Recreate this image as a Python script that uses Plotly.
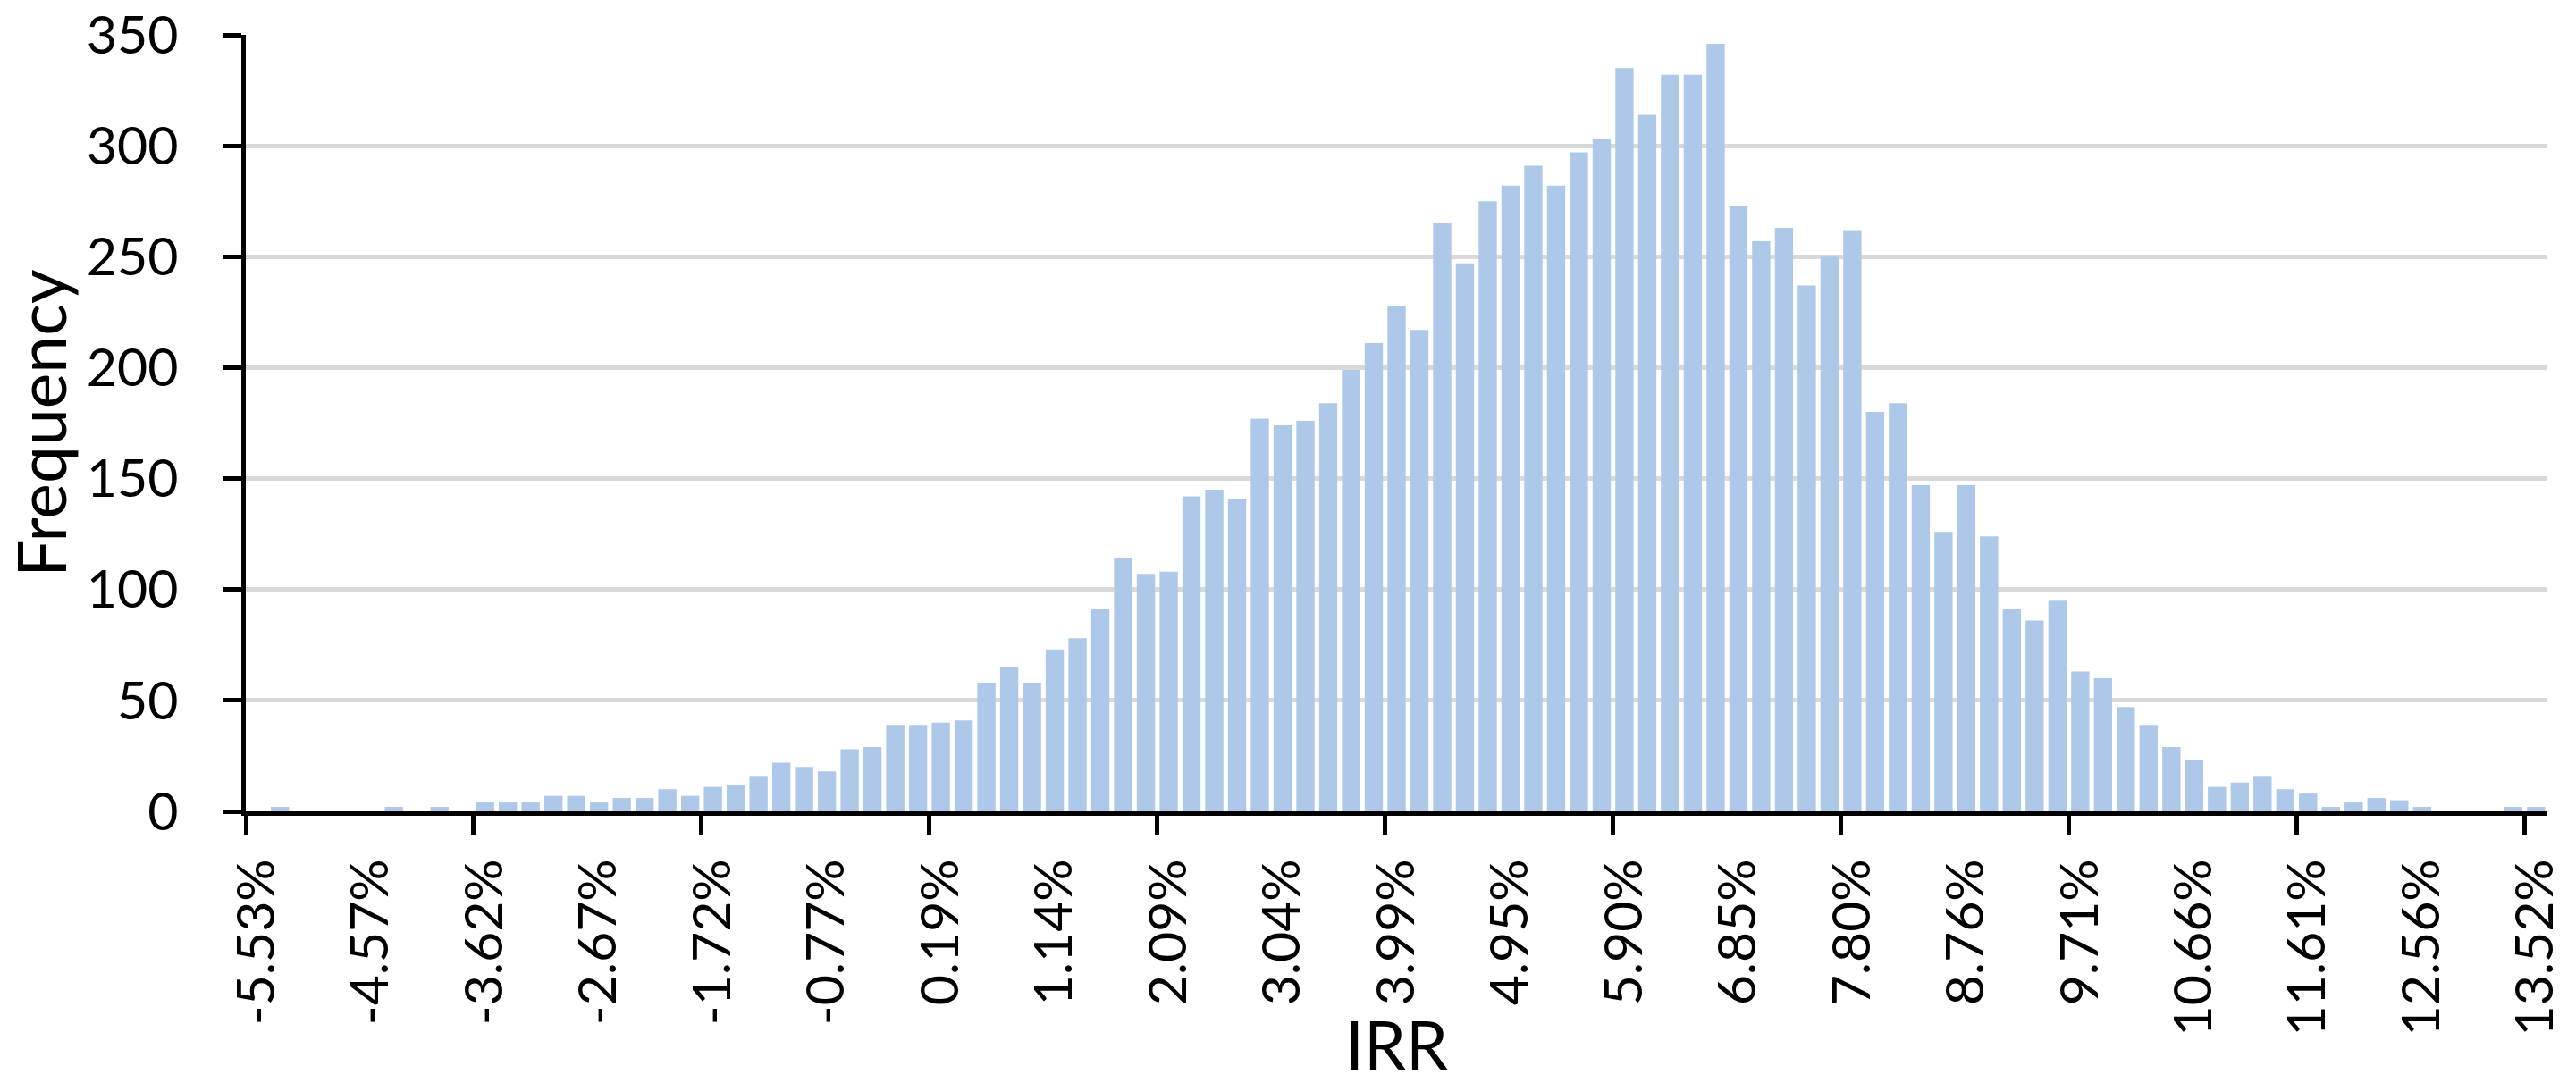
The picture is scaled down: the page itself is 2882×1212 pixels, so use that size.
import plotly.graph_objects as go

# ---- data ----
frequency = [
    0, 2, 0, 0, 0, 0, 2, 0, 2, 0,
    4, 4, 4, 7, 7, 4, 6, 6, 10, 7,
    11, 12, 16, 22, 20, 18, 28, 29, 39, 39,
    40, 41, 58, 65, 58, 73, 78, 91, 114, 107,
    108, 142, 145, 141, 177, 174, 176, 184, 199, 211,
    228, 217, 265, 247, 275, 282, 291, 282, 297, 303,
    335, 314, 332, 332, 346, 273, 257, 263, 237, 250,
    262, 180, 184, 147, 126, 147, 124, 91, 86, 95,
    63, 60, 47, 39, 29, 23, 11, 13, 16, 10,
    8, 2, 4, 6, 5, 2, 0, 0, 0, 2,
    2,
]
tick_labels = ["-5.53%", "-4.57%", "-3.62%", "-2.67%", "-1.72%", "-0.77%", "0.19%",
               "1.14%", "2.09%", "3.04%", "3.99%", "4.95%", "5.90%", "6.85%",
               "7.80%", "8.76%", "9.71%", "10.66%", "11.61%", "12.56%", "13.52%"]
label_every = 5
mark_every = 10
y_ticks = [0, 50, 100, 150, 200, 250, 300, 350]
x_title = "IRR"
y_title = "Frequency"

categories = list(range(len(frequency)))
tick_positions = categories[::label_every]
boundary_marks = [c - 0.5 for c in categories[::mark_every]]

FONT = "Lato"
TICK_SIZE = 59
TITLE_SIZE = 75

fig = go.Figure(
    go.Bar(
        x=categories,
        y=frequency,
        marker=dict(color="#adc8e8", line=dict(width=0)),
        hoverinfo="y",
    )
)

fig.update_layout(
    width=2882,
    height=1212,
    margin=dict(l=275, r=32, t=39, b=304, autoexpand=False),
    paper_bgcolor="white",
    plot_bgcolor="white",
    bargap=0.2,
    showlegend=False,
    font=dict(family=FONT, color="black"),
    annotations=[
        dict(
            text=x_title,
            xref="paper", yref="paper",
            x=0.5, y=-0.2992,
            xanchor="center", yanchor="middle",
            showarrow=False,
            font=dict(family=FONT, size=TITLE_SIZE, color="black"),
        )
    ],
)

fig.update_xaxes(
    automargin=False,
    range=[-0.5, len(frequency) - 0.5],
    tickmode="array",
    tickvals=tick_positions,
    ticktext=tick_labels,
    tickangle=-90,
    tickfont=dict(family=FONT, size=TICK_SIZE, color="black"),
    ticks="",
    ticklabelstandoff=25,
    showgrid=False,
    zeroline=False,
    showline=True,
    linecolor="black",
    linewidth=4.5,
    minor=dict(
        tickmode="array",
        tickvals=boundary_marks,
        ticks="outside",
        ticklen=21,
        tickwidth=4.5,
        tickcolor="black",
        showgrid=False,
    ),
)

fig.update_yaxes(
    automargin=False,
    range=[0, 350],
    tickmode="array",
    tickvals=y_ticks,
    tickfont=dict(family=FONT, size=TICK_SIZE, color="black"),
    ticks="outside",
    ticklen=21,
    tickwidth=4.5,
    tickcolor="black",
    ticklabelstandoff=38,
    showgrid=True,
    gridcolor="#d9d9d9",
    gridwidth=5,
    zeroline=False,
    showline=True,
    linecolor="black",
    linewidth=4.5,
    title=dict(text=y_title, font=dict(family=FONT, size=TITLE_SIZE, color="black"), standoff=30),
)

fig.write_html("out.html", config={"displayModeBar": False},
               post_script="document.body.style.margin='0';")
